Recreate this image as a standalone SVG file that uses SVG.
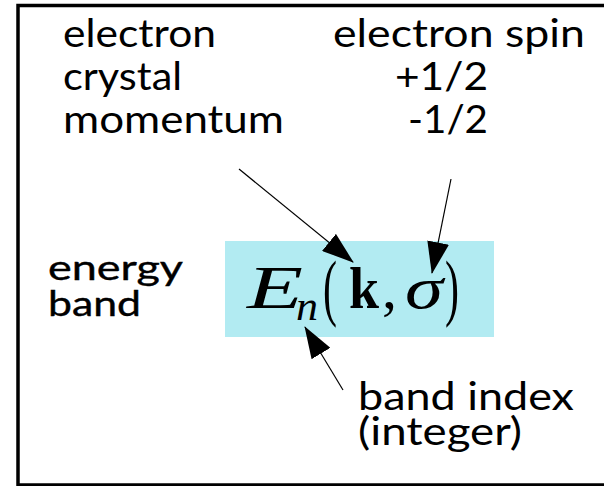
<svg xmlns="http://www.w3.org/2000/svg" width="604" height="486" viewBox="0 0 604 486">
<defs>
<style>
.t{font-family:Lato,"Open Sans","Liberation Sans",sans-serif;font-size:39px;fill:#000}
.b{font-family:Lato,"Open Sans","Liberation Sans",sans-serif;font-size:35px;fill:#000;stroke:#000;stroke-width:0.4}
.m{font-family:"Liberation Serif","DejaVu Serif",serif;font-size:60px;fill:#000}
.i{font-style:italic}
.cn{stroke:#000;stroke-width:1.2;fill:none;marker-end:url(#ah)}
</style>
<marker id="ah" viewBox="0 0 32 22" refX="31" refY="11" markerWidth="32" markerHeight="22" markerUnits="userSpaceOnUse" orient="auto">
<path d="M0,0 L32,11 L0,22 z" fill="#000"/>
</marker>
</defs>
<rect x="18" y="5.5" width="640" height="479.5" fill="#fff" stroke="#000" stroke-width="3.5"/>
<g id="crystal-momentum">
<text class="t" x="63" y="47" textLength="153" lengthAdjust="spacingAndGlyphs">electron</text>
<text class="t" x="63" y="90" textLength="119" lengthAdjust="spacingAndGlyphs">crystal</text>
<text class="t" x="63" y="133" textLength="221" lengthAdjust="spacingAndGlyphs">momentum</text>
</g>
<g id="electron-spin">
<text class="t" x="333" y="47" textLength="252" lengthAdjust="spacingAndGlyphs">electron spin</text>
<text class="t" x="395" y="90" textLength="93" lengthAdjust="spacingAndGlyphs">+1/2</text>
<text class="t" x="408" y="133" textLength="80" lengthAdjust="spacingAndGlyphs">-1/2</text>
</g>
<g id="energy-band">
<text class="b" x="48" y="280" textLength="135" lengthAdjust="spacingAndGlyphs">energy</text>
<text class="b" x="48" y="316" textLength="93" lengthAdjust="spacingAndGlyphs">band</text>
</g>
<g id="formula">
<rect x="225" y="241" width="269" height="96" fill="#b2ebf2"/>
<text class="m i" x="247" y="308" style="font-size:62px" textLength="56" lengthAdjust="spacingAndGlyphs">E</text>
<text class="m i" x="296" y="320" style="font-size:42px" textLength="22" lengthAdjust="spacingAndGlyphs">n</text>
<text class="m" x="323" y="312" style="font-size:74px" textLength="14" lengthAdjust="spacingAndGlyphs">(</text>
<text class="m" x="349" y="308" style="font-weight:bold" textLength="30" lengthAdjust="spacingAndGlyphs">k</text>
<text class="m" x="382" y="308">,</text>
<text class="m i" x="405" y="308" textLength="38" lengthAdjust="spacingAndGlyphs">σ</text>
<text class="m" x="445" y="312" style="font-size:74px" textLength="14" lengthAdjust="spacingAndGlyphs">)</text>
</g>
<g id="band-index">
<text class="t" x="358" y="410" textLength="216" lengthAdjust="spacingAndGlyphs">band index</text>
<text class="t" x="358" y="445" textLength="164" lengthAdjust="spacingAndGlyphs">(integer)</text>
</g>
<g id="connectors">
<line class="cn" x1="239" y1="169" x2="353" y2="262"/>
<line class="cn" x1="451" y1="179" x2="432" y2="273"/>
<line class="cn" x1="343" y1="390" x2="305" y2="327"/>
</g>
</svg>
